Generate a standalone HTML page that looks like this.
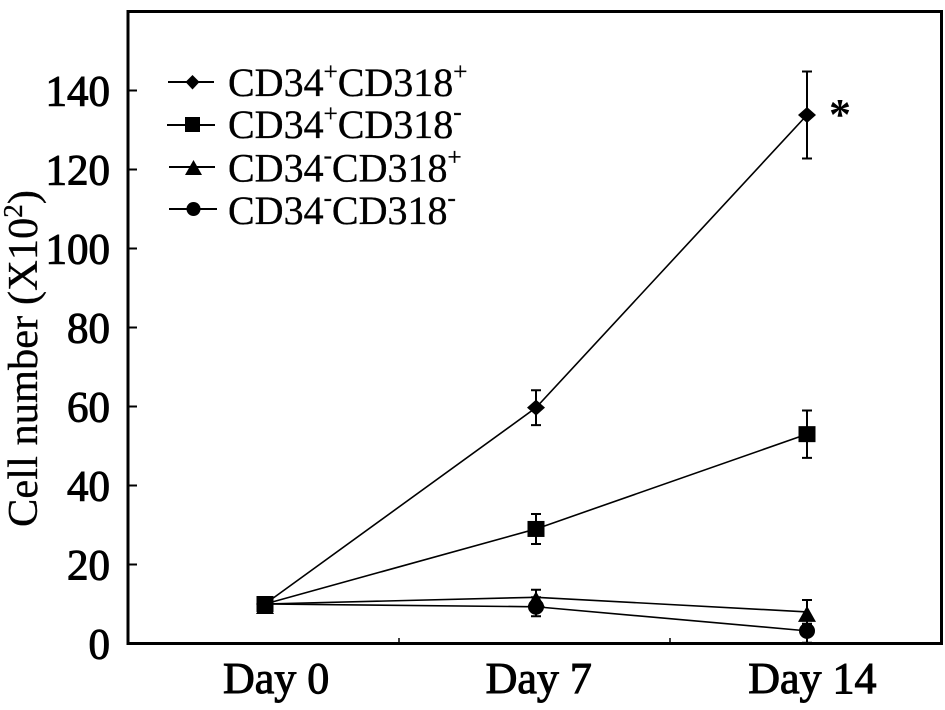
<!DOCTYPE html>
<html lang="en">
<head>
<meta charset="utf-8">
<title>Cell number by day</title>
<style>
html,body{margin:0;padding:0;background:#fff;}
svg{display:block;font-family:"Liberation Serif",serif;fill:#000;}
.tick-label{font-size:44px;stroke:#000;stroke-width:1px;}
.y-label{font-size:43px;}
.legend-text{font-size:40px;stroke:#000;stroke-width:.35px;}
</style>
</head>
<body>
<svg id="chart" width="945" height="710" viewBox="0 0 945 710" xmlns="http://www.w3.org/2000/svg">
  <rect x="0" y="0" width="945" height="710" fill="#fff"/>
  <rect x="128" y="11.5" width="813.500" height="632" fill="none" stroke="#000" stroke-width="3"/>
  <g id="axes"></g>
  <g id="series"></g>
  <text transform="translate(37,358.500) rotate(-90)" text-anchor="middle" font-size="42.500" stroke="#000" stroke-width=".3">Cell number (X10<tspan font-size="27" dy="-15">2</tspan><tspan dy="15">)</tspan></text>
  <text x="840" y="129" text-anchor="middle" font-size="44" font-weight="bold">*</text>
  <g>
    <g>
      <line x1="168" y1="82" x2="214" y2="82" stroke="#000" stroke-width="2"/>
      <polygon points="192.500,75 199.500,82 192.500,89.500 185.500,82"/>
      <text class="legend-text" x="228" y="96">CD34<tspan font-size="25" dy="-16">+</tspan><tspan dy="16">CD318</tspan><tspan font-size="25" dy="-16">+</tspan></text>
    </g>
    <g>
      <line x1="167" y1="125" x2="215" y2="125" stroke="#000" stroke-width="2"/>
      <rect x="185" y="117" width="15" height="15"/>
      <text class="legend-text" x="228" y="138">CD34<tspan font-size="25" dy="-16">+</tspan><tspan dy="16">CD318</tspan><tspan font-size="25" dy="-18">-</tspan></text>
    </g>
    <g>
      <line x1="169" y1="167" x2="215" y2="167" stroke="#000" stroke-width="2"/>
      <polygon points="193.500,160 202,175 185,175"/>
      <text class="legend-text" x="228" y="181.500">CD34<tspan font-size="25" dy="-18">-</tspan><tspan dy="18">CD318</tspan><tspan font-size="25" dy="-16">+</tspan></text>
    </g>
    <g>
      <line x1="169" y1="209" x2="217" y2="209" stroke="#000" stroke-width="2"/>
      <circle cx="193.500" cy="209" r="7"/>
      <text class="legend-text" x="228" y="224">CD34<tspan font-size="25" dy="-18">-</tspan><tspan dy="18">CD318</tspan><tspan font-size="25" dy="-18">-</tspan></text>
    </g>
  </g>
</svg>
<script>
const categories = ["Day 0", "Day 7", "Day 14"];
const yTicks = [0, 20, 40, 60, 80, 100, 120, 140];
const seriesNames = ["cd34pos-cd318pos", "cd34pos-cd318neg", "cd34neg-cd318pos", "cd34neg-cd318neg"];
const markerKinds = ["diamond", "square", "triangle", "circle"];
const valuesA = [10, 59.7, 133.8];
const valuesB = [10, 29, 53];
const valuesC = [10, 11.7, 8];
const valuesD = [10, 9.3, 3.2];
const errorsA = [0, 4.4, 11];
const errorsB = [0, 3.8, 6];
const errorsC = [0, 1.9, 3];
const errorsD = [0, 2.4, 3];

const NS = "http://www.w3.org/2000/svg";
const yScale = v => 643.5 - v * 3.95;
const xScale = i => 128.5 + (i + 0.5) * 271 + 1;
const xLabelScale = i => 223 + i * 262.6;
const bandEdge = i => 128 + i * 271;
const axes = document.getElementById("axes");
const seriesGroup = document.getElementById("series");

function make(tag, attrs, parent) {
  const el = document.createElementNS(NS, tag);
  for (const k in attrs) el.setAttribute(k, attrs[k]);
  parent.appendChild(el);
  return el;
}

yTicks.forEach(t => {
  const y = yScale(t);
  if (t > 0) {
    const tick = make("line", {x1: 128, x2: 137, y1: y, y2: y, stroke: "#000", "stroke-width": 2}, axes);
    
    
  }
  const label = make("text", {x: 110, y: y + 15, "text-anchor": "end", class: "tick-label y-label"}, axes);
  label.textContent = t;
  
  
});

categories.forEach((c, i) => {
  if (i > 0) {
    const x = bandEdge(i);
    const tick = make("line", {x1: x, x2: x, y1: 638, y2: 643, stroke: "#000", "stroke-width": 1.5}, axes);
    
    
  }
  const label = make("text", {x: xLabelScale(i), y: 693, "text-anchor": "start", class: "tick-label"}, axes);
  label.textContent = c;
  
  
});

function drawMarker(kind, x, y, parent) {
  let m;
  if (kind === "diamond") {
    m = make("polygon", {points: [[x, y - 8], [x + 9, y], [x, y + 8], [x - 9, y]].join(" ")}, parent);
  } else if (kind === "square") {
    m = make("rect", {x: x - 8.5, y: y - 8, width: 17, height: 16}, parent);
  } else if (kind === "triangle") {
    m = make("polygon", {points: [[x, y - 6], [x + 9, y + 10], [x - 9, y + 10]].join(" ")}, parent);
  } else {
    m = make("circle", {cx: x, cy: y, r: 8}, parent);
  }
  
  
}

[[valuesA, errorsA], [valuesB, errorsB], [valuesC, errorsC], [valuesD, errorsD]].forEach((pair, s) => {
  const vals = pair[0], errs = pair[1];
  const g = make("g", {}, seriesGroup);
  
  
  const line = make("polyline", {
    points: vals.map((v, i) => xScale(i) + "," + yScale(v)).join(" "),
    fill: "none", stroke: "#000", "stroke-width": 1.6
  }, g);
  
  
  vals.forEach((v, i) => {
    const x = xScale(i);
    if (errs[i] > 0) {
      const hi = yScale(v + errs[i]), lo = yScale(v - errs[i]);
      const bar = make("path", {
        d: "M" + x + " " + hi + "V" + lo + "M" + (x - 5) + " " + hi + "H" + (x + 5) + "M" + (x - 5) + " " + lo + "H" + (x + 5),
        fill: "none", stroke: "#000", "stroke-width": 2
      }, g);
      
      
    }
    drawMarker(markerKinds[s], x, yScale(v), g);
  });
});
</script>
</body>
</html>
